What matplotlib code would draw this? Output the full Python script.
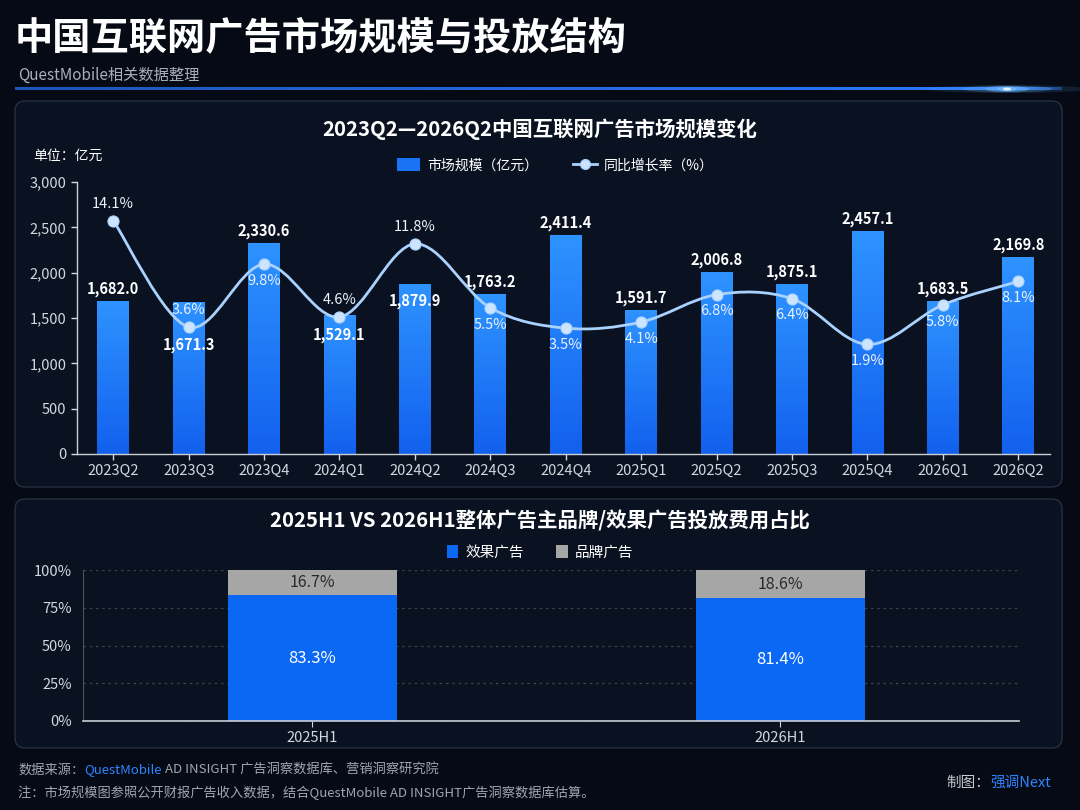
import numpy as np
import matplotlib.pyplot as plt
from matplotlib.patches import FancyBboxPatch, Patch, PathPatch, Ellipse
from matplotlib.lines import Line2D
from matplotlib.path import Path
from matplotlib.colors import LinearSegmentedColormap, to_rgba
from matplotlib.ticker import FuncFormatter

plt.rcParams['font.family'] = ['Noto Sans CJK SC', 'DejaVu Sans']

# === data ===
quarters = ["2023Q2", "2023Q3", "2023Q4", "2024Q1", "2024Q2", "2024Q3", "2024Q4",
            "2025Q1", "2025Q2", "2025Q3", "2025Q4", "2026Q1", "2026Q2"]
market_size = [1682.0, 1671.3, 2330.6, 1529.1, 1879.9, 1763.2, 2411.4,
               1591.7, 2006.8, 1875.1, 2457.1, 1683.5, 2169.8]
yoy_growth = [14.1, 3.6, 9.8, 4.6, 11.8, 5.5, 3.5, 4.1, 6.8, 6.4, 1.9, 5.8, 8.1]

halves = ["2025H1", "2026H1"]
effect_share = [83.3, 81.4]
brand_share = [16.7, 18.6]

# label placement (which side of the mark the value text sits)
size_inside = [False, True, False, True, True, False, False, False, False, False, False, False, False]
growth_above = [True, True, False, True, True, False, False, False, False, False, False, False, False]

BG = "#050a15"
PANEL = "#0a1221"
BORDER = "#263041"
TICK = "#d3d7de"
GREY_TXT = "#a0a6b0"
LINK = "#2f86ff"

W, H = 1080, 810
fig = plt.figure(figsize=(W / 100, H / 100), dpi=100, facecolor=BG)


def fx(px):
    return px / W


def fy(py):
    return 1 - py / H


# --- background decorations in pixel space ---
bg = fig.add_axes([0, 0, 1, 1], zorder=-10)
bg.set_xlim(0, W)
bg.set_ylim(H, 0)
bg.axis("off")

for top, height in [(101, 386), (499, 249)]:
    bg.add_patch(FancyBboxPatch((15, top), 1047, height,
                                boxstyle="round,pad=0,rounding_size=10",
                                fc=PANEL, ec=BORDER, lw=1.0))

# header line with glow
n = 400
line_rgba = np.zeros((1, n, 4))
xs = np.linspace(0, 1, n)
c0 = np.array(to_rgba("#1c55b8"))
c1 = np.array(to_rgba("#2a78ff"))
for i, t in enumerate(xs):
    line_rgba[0, i] = c0 + (c1 - c0) * min(1, t * 1.1)
    if t > 0.96:
        line_rgba[0, i, 3] = max(0.3, 1 - (t - 0.96) * 15)
bg.imshow(line_rgba, extent=(15, 1062, 90.5, 88), aspect="auto", zorder=2)
for w_, h_, a in [(160, 8, 0.12), (90, 7, 0.25), (44, 6, 0.5), (20, 4, 0.9), (8, 3, 1.0)]:
    bg.add_patch(Ellipse((1007, 89), w_, h_, fc="#6fbaff" if w_ > 10 else "#e6f4ff",
                         ec="none", alpha=a, zorder=3))

# --- header texts ---
fig.text(fx(15), fy(38), "中国互联网广告市场规模与投放结构", fontsize=27.5,
         fontweight="bold", color="white", va="center", ha="left")
fig.text(fx(18), fy(75), "QuestMobile相关数据整理", fontsize=11,
         color="#aab0ba", va="center", ha="left")

# === top chart ===
fig.text(0.5, fy(129), "2023Q2—2026Q2中国互联网广告市场规模变化", fontsize=14.7,
         color="white", ha="center", va="center", fontweight="bold")
fig.text(fx(33), fy(156), "单位：亿元", fontsize=10, color="white", va="center")

ax = fig.add_axes([fx(77), fy(454), fx(1050 - 77), (454 - 182) / H])
ax.set_facecolor("none")
x = np.arange(len(quarters))
bar_w = 0.42
bars = ax.bar(x, market_size, bar_w, color="#1f78f8", zorder=2)
cmap = LinearSegmentedColormap.from_list("barblue", ["#1260ee", "#2e93ff"])
grad = np.linspace(0, 1, 256).reshape(-1, 1)
for b in bars:
    im = ax.imshow(grad, extent=(b.get_x(), b.get_x() + b.get_width(), 0, b.get_height()),
                   origin="lower", aspect="auto", cmap=cmap, zorder=2.1)
    im.set_clip_path(b)

ax.set_xlim(-0.48, 12.42)
ax.set_ylim(0, 3000)
ax.set_yticks(np.arange(0, 3001, 500))
ax.yaxis.set_major_formatter(FuncFormatter(lambda v, p: f"{v:,.0f}"))
ax.set_xticks(x)
ax.set_xticklabels(quarters)
ax.tick_params(colors=TICK, labelsize=10.5, length=4, width=1)
ax.tick_params(axis="x", pad=3)
for s in ["top", "right"]:
    ax.spines[s].set_visible(False)
for s in ["left", "bottom"]:
    ax.spines[s].set_color("#c9cdd4")
    ax.spines[s].set_linewidth(1.0)

# growth rate line on a hidden secondary axis, drawn as smooth bezier
ax2 = ax.twinx()
ax2.set_ylim(-8.9, 17.9)
ax2.axis("off")
pts = np.column_stack([x, yoy_growth]).astype(float)
verts = [pts[0]]
codes = [Path.MOVETO]
for i in range(len(pts) - 1):
    p0 = pts[i - 1] if i > 0 else pts[i]
    p1, p2 = pts[i], pts[i + 1]
    p3 = pts[i + 2] if i + 2 < len(pts) else pts[i + 1]
    verts += [p1 + (p2 - p0) / 6, p2 - (p3 - p1) / 6, p2]
    codes += [Path.CURVE4] * 3
ax2.add_patch(PathPatch(Path(verts, codes), fc="none", ec="#a9d2ff", lw=2, zorder=4))
ax2.plot(x, yoy_growth, "o", ms=8, color="#cde4ff", mec="#a9d2ff", mew=0.8, zorder=5)

for i, v in enumerate(yoy_growth):
    if growth_above[i]:
        ax2.annotate(f"{v}%", (i, v), xytext=(0, 7), textcoords="offset points",
                     ha="center", va="bottom", fontsize=10.5, color="#eaf2ff", zorder=6)
    else:
        ax2.annotate(f"{v}%", (i, v), xytext=(0, -7), textcoords="offset points",
                     ha="center", va="top", fontsize=10.5, color="#eaf2ff", zorder=6)

# bar value labels (inside labels slide below the growth point when it sits lower)
for i, v in enumerate(market_size):
    if size_inside[i]:
        y_bar = ax.transData.transform((i, v))[1]
        y_pt = ax2.transData.transform((i, yoy_growth[i]))[1]
        if y_pt < y_bar:
            ax2.annotate(f"{v:,.1f}", (i, yoy_growth[i]), xytext=(0, -7),
                         textcoords="offset points", ha="center", va="top",
                         fontsize=10.5, fontweight="bold", color="white", zorder=6)
            continue
        ax.annotate(f"{v:,.1f}", (i, v), xytext=(0, -7), textcoords="offset points",
                    ha="center", va="top", fontsize=10.5, fontweight="bold",
                    color="white", zorder=6)
    else:
        ax.annotate(f"{v:,.1f}", (i, v), xytext=(0, 3), textcoords="offset points",
                    ha="center", va="bottom", fontsize=10.5, fontweight="bold",
                    color="white", zorder=6)

handles = [Patch(fc="#1a73f5", ec="none"),
           Line2D([], [], color="#a9d2ff", lw=2, marker="o", ms=7, mfc="#cde4ff", mec="#a9d2ff")]
fig.legend(handles, ["市场规模（亿元）", "同比增长率（%）"], loc="center",
           bbox_to_anchor=(fx(555), fy(165)), ncol=2, frameon=False, fontsize=10,
           labelcolor="white", handlelength=1.7, handleheight=1.1, columnspacing=2.5,
           handletextpad=0.5)

# === bottom chart ===
fig.text(0.5, fy(521), "2025H1 VS 2026H1整体广告主品牌/效果广告投放费用占比", fontsize=14.7,
         color="white", ha="center", va="center", fontweight="bold")

ax3 = fig.add_axes([fx(83), fy(721), fx(1019 - 83), (721 - 570) / H])
ax3.set_facecolor("none")
xh = np.arange(len(halves))
hw = 0.36
ax3.bar(xh, effect_share, hw, color="#0b68f4", zorder=2, label="效果广告")
ax3.bar(xh, brand_share, hw, bottom=effect_share, color="#a6a6a6", zorder=2, label="品牌广告")
ax3.set_xlim(-0.49, 1.51)
ax3.set_ylim(0, 100)
ax3.set_yticks(np.arange(0, 101, 25))
ax3.yaxis.set_major_formatter(FuncFormatter(lambda v, p: f"{v:.0f}%"))
ax3.set_xticks(xh)
ax3.set_xticklabels(halves)
ax3.grid(axis="y", color="#3a424e", lw=0.9, linestyle=(0, (2, 3)), zorder=0)
ax3.tick_params(colors=TICK, labelsize=10.5, length=4)
ax3.tick_params(axis="y", length=0, pad=8)
for s in ["top", "right"]:
    ax3.spines[s].set_visible(False)
ax3.spines["left"].set_color("#4a525e")
ax3.spines["bottom"].set_color("#c9cdd4")
ax3.spines["bottom"].set_linewidth(1.2)

for i in range(len(halves)):
    ax3.text(i, effect_share[i] / 2, f"{effect_share[i]}%", ha="center", va="center",
             fontsize=12, color="white", zorder=5)
    ax3.text(i, effect_share[i] + brand_share[i] / 2, f"{brand_share[i]}%", ha="center",
             va="center", fontsize=11.5, color="#2a2a2a", zorder=5)

fig.legend([Patch(fc="#0b68f4"), Patch(fc="#a6a6a6")], ["效果广告", "品牌广告"],
           loc="center", bbox_to_anchor=(fx(540), fy(552)), ncol=2, frameon=False,
           fontsize=10.5, labelcolor="white", handlelength=0.8, handleheight=1.0,
           columnspacing=2.2, handletextpad=0.5)

# === footer ===
renderer = fig.canvas.get_renderer()


def text_run(x0, y0, pieces, size=9.5):
    cur = x0
    for txt, col in pieces:
        t = fig.text(fx(cur), fy(y0), txt, fontsize=size, color=col, va="center", ha="left")
        cur += t.get_window_extent(renderer).width
    return cur


text_run(18, 770, [("数据来源：", GREY_TXT), ("QuestMobile", LINK),
                   (" AD INSIGHT 广告洞察数据库、营销洞察研究院", GREY_TXT)])
text_run(18, 793, [("注：市场规模图参照公开财报广告收入数据，结合QuestMobile AD INSIGHT广告洞察数据库估算。", GREY_TXT)])
text_run(946, 783, [("制图：", "#c4c8cf"), ("强调Next", LINK)], size=10.5)

fig.savefig("out.png", dpi=100, facecolor=BG)
